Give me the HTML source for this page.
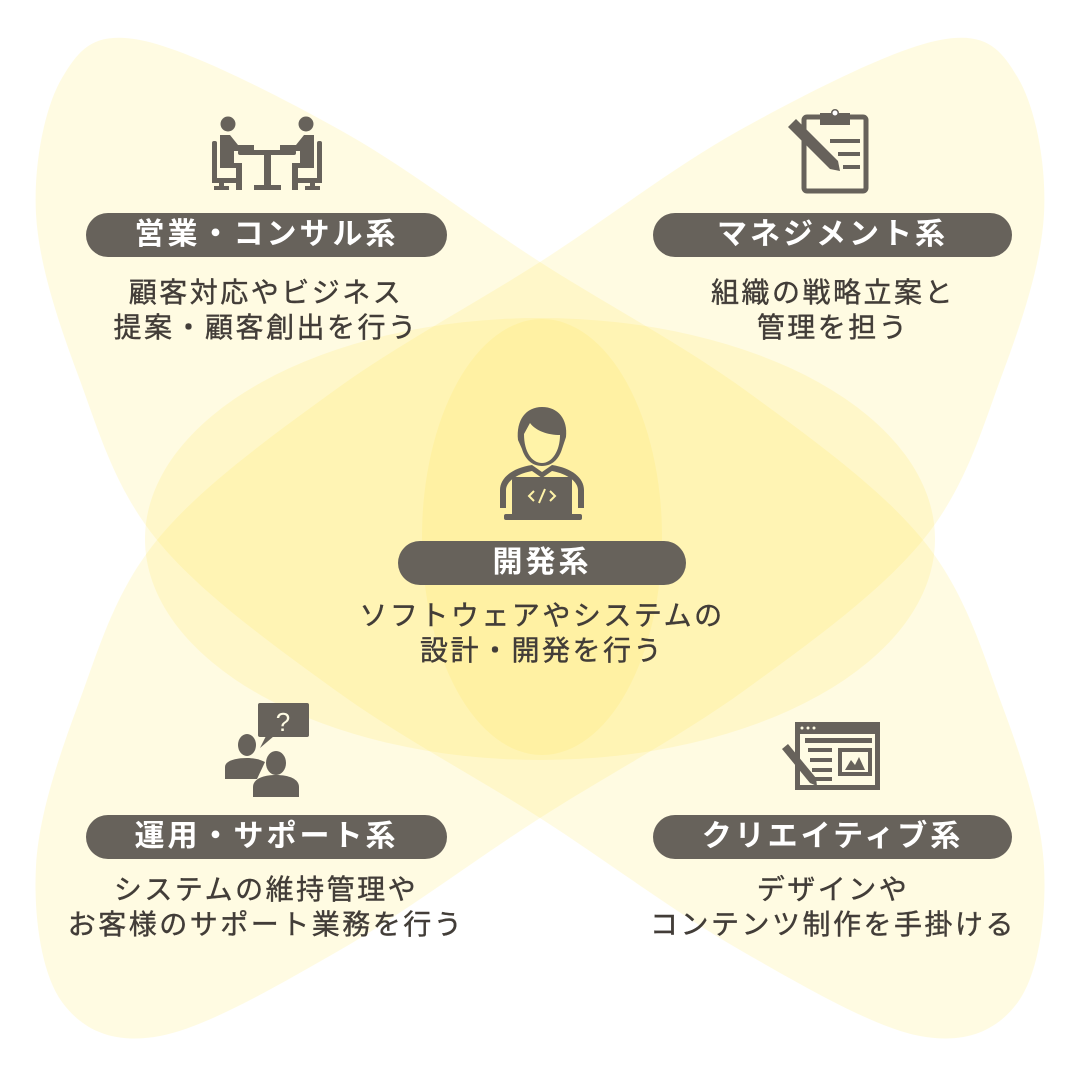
<!DOCTYPE html>
<html><head><meta charset="utf-8">
<style>
html,body{margin:0;padding:0;background:#fff;}
#wrap{position:relative;width:1080px;height:1080px;overflow:hidden;font-family:"Liberation Sans","Noto Sans CJK JP",sans-serif;}
svg.bg{position:absolute;left:0;top:0;}
.pill{position:absolute;height:44px;border-radius:22px;background:#67625b;color:#fff;font-weight:bold;font-size:30px;line-height:44px;text-align:center;letter-spacing:3px;}
.desc{position:absolute;color:#423d38;font-size:28px;line-height:35px;text-align:center;letter-spacing:2.5px;white-space:nowrap;-webkit-text-stroke:0.4px #423d38;}
</style></head><body>
<div id="wrap">
<svg class="bg" width="1080" height="1080" viewBox="0 0 1080 1080">
<g fill="#FFE94A" fill-opacity="0.16">
<path id="e1" d=""/>
<path id="e2" d=""/>
<ellipse cx="540" cy="539" rx="395" ry="221"/>
<ellipse cx="542" cy="537" rx="120" ry="218"/>
</g>
</svg>
<script>
(function(){
var pts=[[-478,-462],[-400,-500],[-200,-410],[0,-278],[205,-150],[383,0],[462,165],[504,326],[478,462],[380,496],[200,410],[0,278],[-205,150],[-383,0],[-462,-165],[-504,-326]];
function path(sx){
 var p=pts.map(function(q){return [540+sx*q[0],540+q[1]];});
 var n=p.length,d="M"+p[0][0]+","+p[0][1];
 for(var i=0;i<n;i++){
  var p0=p[(i-1+n)%n],p1=p[i],p2=p[(i+1)%n],p3=p[(i+2)%n];
  var c1=[p1[0]+(p2[0]-p0[0])/6,p1[1]+(p2[1]-p0[1])/6];
  var c2=[p2[0]-(p3[0]-p1[0])/6,p2[1]-(p3[1]-p1[1])/6];
  d+=" C"+c1[0].toFixed(1)+","+c1[1].toFixed(1)+" "+c2[0].toFixed(1)+","+c2[1].toFixed(1)+" "+p2[0]+","+p2[1];
 }
 return d+"Z";
}
document.getElementById('e1').setAttribute('d',path(1));
document.getElementById('e2').setAttribute('d',path(-1));
})();
</script>

<svg class="bg" width="1080" height="1080" viewBox="0 0 1080 1080" fill="#67625b">
<circle cx="228" cy="124" r="7.5"/><circle cx="306" cy="124" r="7.5"/>
<rect x="212" y="141" width="5" height="40" rx="2"/><rect x="317" y="141" width="5" height="40" rx="2"/>
<path d="M220,135 h10 l8,10 h16 v6 h-20 v12 h8 v27 h-6 v-22 h-16 z"/>
<path d="M314,135 h-10 l-8,10 h-16 v6 h20 v12 h-8 v27 h6 v-22 h16 z"/>
<rect x="238" y="150" width="58" height="5" rx="2"/>
<rect x="264" y="154" width="7" height="32"/><rect x="254" y="185" width="27" height="5"/>
<rect x="212" y="178" width="25" height="5"/><rect x="219" y="182" width="5" height="6"/><rect x="214" y="186" width="15" height="4"/>
<rect x="297" y="178" width="25" height="5"/><rect x="310" y="182" width="5" height="6"/><rect x="305" y="186" width="15" height="4"/>
<rect x="804" y="117" width="62" height="74" rx="3" fill="none" stroke="#67625b" stroke-width="5"/>
<path d="M820,113 h11 a4,4 0 0 1 8,0 h11 v12 h-30 z"/><circle cx="835" cy="113" r="2.5" fill="#fff"/>
<rect x="830" y="139" width="30" height="4"/><rect x="838" y="152" width="22" height="4"/><rect x="843" y="165" width="17" height="4"/>
<path d="M788,127 l8,-8 l42,42 l2,10 l-10,-2 z"/>
<path d="M518,440 c-2,-20 8,-33 24,-33 c16,0 26,12 24,30 l-4,12 c-3,10 -10,17 -20,17 c-10,0 -17,-7 -20,-17 z"/>
<path d="M524,434 c0,18 8,29 18,29 c10,0 18,-12 18,-28 c-12,0 -24,-4 -30,-12 z" fill="#fff3a8"/>
<path d="M500,508 v-18 c0,-12 12,-22 32,-25 l10,7 l10,-7 c20,3 32,13 32,25 v18 h-6 v-18 c0,-8 -10,-16 -26,-19 l-10,7 l-10,-7 c-16,3 -26,11 -26,19 v18 z"/>
<rect x="512" y="477" width="60" height="40" rx="3"/>
<rect x="504" y="514" width="78" height="6" rx="2"/>
<path d="M534,491 l-5,5 l5,5 M550,491 l5,5 l-5,5 M545,489 l-6,14" stroke="#fff3a8" stroke-width="2" fill="none"/>
<rect x="258" y="703" width="51" height="34" rx="2"/>
<path d="M266,736 l-6,12 l14,-12 z"/>
<text x="283" y="731" fill="#fffce4" font-size="26" font-family="Liberation Sans,sans-serif" text-anchor="middle">?</text>
<ellipse cx="247" cy="745" rx="9" ry="11"/><path d="M225,779 v-12 c0,-6 10,-9 22,-9 c8,0 14,2 18,4 l-8,17 z"/>
<ellipse cx="276" cy="763" rx="10" ry="12"/><path d="M253,797 v-10 c0,-8 10,-12 23,-12 c13,0 23,4 23,12 v10 z"/>
<rect x="795" y="722" width="85" height="68"/>
<rect x="800" y="734" width="75" height="51" fill="#fffce4"/>
<circle cx="802" cy="728" r="1.5" fill="#fffce4"/><circle cx="808" cy="728" r="1.5" fill="#fffce4"/><circle cx="814" cy="728" r="1.5" fill="#fffce4"/>
<rect x="805" y="738" width="67" height="5"/>
<rect x="808" y="748" width="24" height="4"/><rect x="810" y="758" width="22" height="4"/><rect x="812" y="768" width="20" height="4"/><rect x="815" y="777" width="17" height="4"/>
<rect x="838" y="748" width="34" height="28"/>
<rect x="842" y="752" width="26" height="20" fill="#fffce4"/>
<path d="M845,770 l6,-10 l4,5 l4,-8 l6,13 z"/>
<path d="M782,749 l6,-5 l28,34 l1,8 l-7,-3 z"/>
</svg>

<div class="pill" style="left:86px;top:213px;width:361px;">営業・コンサル系</div>
<div class="pill" style="left:653px;top:213px;width:359px;">マネジメント系</div>
<div class="pill" style="left:398px;top:541px;width:288px;">開発系</div>
<div class="pill" style="left:86px;top:815px;width:361px;">運用・サポート系</div>
<div class="pill" style="left:653px;top:815px;width:359px;">クリエイティブ系</div>

<div class="desc" style="left:66px;top:275px;width:400px;">顧客対応やビジネス<br>提案・顧客創出を行う</div>
<div class="desc" style="left:633px;top:275px;width:400px;">組織の戦略立案と<br>管理を担う</div>
<div class="desc" style="left:292px;top:598px;width:500px;">ソフトウェアやシステムの<br>設計・開発を行う</div>
<div class="desc" style="left:16px;top:872px;width:500px;">システムの維持管理や<br>お客様のサポート業務を行う</div>
<div class="desc" style="left:583px;top:872px;width:500px;">デザインや<br>コンテンツ制作を手掛ける</div>
</div>
</body></html>
